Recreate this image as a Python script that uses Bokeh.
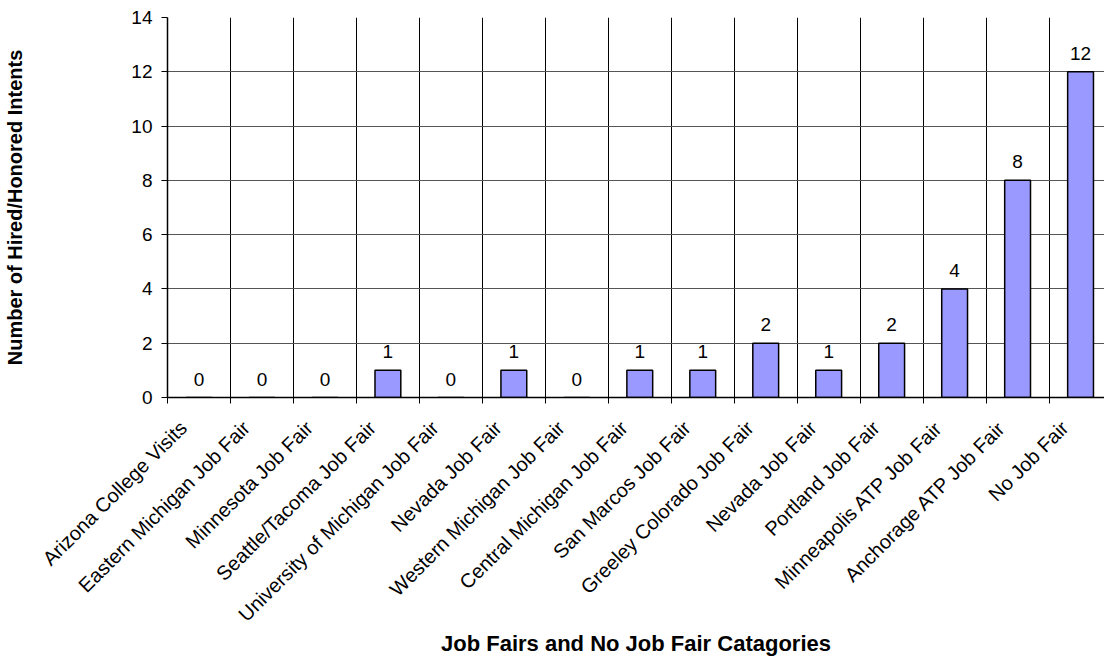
import math
from bokeh.plotting import figure
from bokeh.models import FixedTicker, Range1d, ColumnDataSource
from bokeh.core.properties import value
from bokeh.embed import file_html
from bokeh.resources import INLINE

categories = [
    "Arizona College Visits",
    "Eastern Michigan Job Fair",
    "Minnesota Job Fair",
    "Seattle/Tacoma Job Fair",
    "University of Michigan Job Fair",
    "Nevada Job Fair",
    "Western Michigan Job Fair",
    "Central Michigan Job Fair",
    "San Marcos Job Fair",
    "Greeley Colorado Job Fair",
    "Nevada Job Fair",
    "Portland Job Fair",
    "Minneapolis ATP Job Fair",
    "Anchorage ATP Job Fair",
    "No Job Fair",
]
hired = [0, 0, 0, 1, 0, 1, 0, 1, 1, 2, 1, 2, 4, 8, 12]
y_ticks = [0, 2, 4, 6, 8, 10, 12, 14]

FONT = "Liberation Sans"
n = len(categories)
pos = list(range(1, n + 1))
bounds = [i + 0.5 for i in range(0, n + 1)]
# rotated labels end a little left of the category centre
label_pos = [x - 0.25 for x in pos]

src = ColumnDataSource(dict(x=pos, top=hired, label=[str(v) for v in hired]))

p = figure(width=1104, height=665, output_backend="svg", toolbar_location=None,
           x_range=Range1d(0.5, 0.5 + 937 / 62.97), y_range=Range1d(0, 14),
           min_border_left=167, min_border_right=0, min_border_top=17, min_border_bottom=268)
p.outline_line_color = None
p.background_fill_color = "white"
p.border_fill_color = "white"

p.vbar(x="x", top="top", bottom=0, width=0.41, source=src,
       fill_color="#9999FF", line_color="black", line_width=1.5)
p.text(x="x", y="top", text="label", source=src, text_align="center",
       text_baseline="bottom", y_offset=-12, text_font=value(FONT),
       text_font_size="19px", text_color="black")

# x axis
xa = p.xaxis[0]
xa.ticker = FixedTicker(ticks=label_pos, minor_ticks=bounds)
xa.major_label_overrides = {lp: c for lp, c in zip(label_pos, categories)}
xa.major_label_orientation = math.pi / 4
xa.major_tick_line_color = None
xa.major_tick_in = 0
xa.major_tick_out = 0
xa.minor_tick_line_color = "black"
xa.minor_tick_in = 0
xa.minor_tick_out = 6
xa.axis_line_color = "black"
xa.axis_line_width = 1.5
xa.major_label_text_font = FONT
xa.major_label_text_font_size = "20px"
xa.major_label_text_color = "black"
xa.major_label_standoff = 21
xa.axis_label = "Job Fairs and No Job Fair Catagories"
xa.axis_label_text_font = FONT
xa.axis_label_text_font_style = "bold"
xa.axis_label_text_font_size = "22px"
xa.axis_label_text_color = "black"
xa.axis_label_standoff = -5

# y axis
ya = p.yaxis[0]
ya.ticker = FixedTicker(ticks=y_ticks)
ya.minor_tick_line_color = None
ya.major_tick_in = 0
ya.major_tick_out = 6
ya.axis_line_color = "black"
ya.axis_line_width = 1.5
ya.major_label_text_font = FONT
ya.major_label_text_font_size = "19px"
ya.major_label_text_color = "black"
ya.major_label_standoff = 9
ya.axis_label = "Number of Hired/Honored Intents"
ya.axis_label_text_font = FONT
ya.axis_label_text_font_style = "bold"
ya.axis_label_text_font_size = "20px"
ya.axis_label_text_color = "black"
ya.axis_label_standoff = 102

# grids
p.xgrid.ticker = FixedTicker(ticks=bounds)
p.xgrid.grid_line_color = "black"
p.xgrid.grid_line_width = 1
p.ygrid.ticker = FixedTicker(ticks=y_ticks)
p.ygrid.grid_line_color = "#555555"
p.ygrid.grid_line_width = 1.2

open("out.html", "w").write(file_html(p, INLINE))
